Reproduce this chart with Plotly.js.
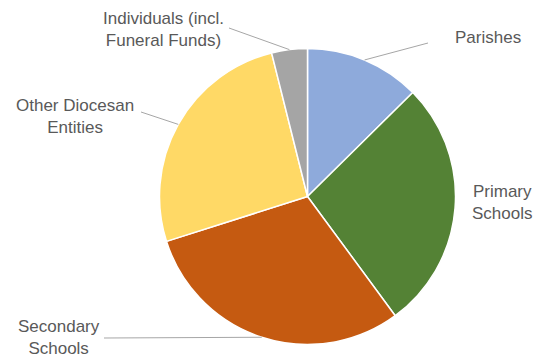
<!DOCTYPE html>
<html>
<head>
<meta charset="utf-8">
<script src="https://cdn.plot.ly/plotly-3.0.1.min.js"></script>
<style>html,body{margin:0;padding:0;background:#fff;}#chart{width:547px;height:359px;}</style>
</head>
<body>
<div id="chart"></div>
<script>
// Data
const categories = ["Parishes", "Primary Schools", "Secondary Schools", "Other Diocesan Entities", "Individuals (incl. Funeral Funds)"];
const labelText = ["Parishes", "Primary<br>Schools", "Secondary<br>Schools", "Other Diocesan<br>Entities", "Individuals (incl.<br>Funeral Funds)"];
const values = [12.6, 27.3, 30.2, 26.0, 3.9];
const colors = ["#8eaadb", "#548235", "#c55a11", "#ffd966", "#a5a5a5"];

// Layout geometry (pixels)
const W = 547, H = 359;
const cx = 307.5, cy = 196.5, R = 148;
// label centers and leader-line start points
const labelPos = [[488, 38], [502, 202], [59, 337], [75, 116], [163, 30]];
const leaderStart = [[428, 43], null, [104, 338], [141, 112], [229, 28]];

const px = x => x / W;
const py = y => 1 - y / H;

const total = values.reduce((a, b) => a + b, 0);
let cum = 0;
const shapes = [];
const annotations = [];
values.forEach((v, i) => {
  const mid = (cum + v / 2) / total * 2 * Math.PI;
  cum += v;
  const ex = cx + R * Math.sin(mid);
  const ey = cy - R * Math.cos(mid);
  if (leaderStart[i]) {
    shapes.push({type: 'line', xref: 'paper', yref: 'paper',
      x0: px(leaderStart[i][0]), y0: py(leaderStart[i][1]),
      x1: px(ex), y1: py(ey),
      line: {color: '#a6a6a6', width: 1}});
  }
  annotations.push({xref: 'paper', yref: 'paper', x: px(labelPos[i][0]), y: py(labelPos[i][1]),
    xanchor: 'center', yanchor: 'middle', align: 'center', showarrow: false,
    text: labelText[i], font: {family: 'Liberation Sans, Arial, sans-serif', size: 17, color: '#595959'}});
});

const trace = {
  type: 'pie',
  labels: categories,
  values: values,
  sort: false,
  direction: 'clockwise',
  rotation: 0,
  textinfo: 'none',
  hoverinfo: 'label+percent',
  marker: {colors: colors, line: {color: '#ffffff', width: 1.5}},
  domain: {x: [px(cx - R), px(cx + R)], y: [py(cy + R), py(cy - R)]},
  showlegend: false
};

Plotly.newPlot('chart', [trace], {
  width: W, height: H,
  margin: {l: 0, r: 0, t: 0, b: 0},
  paper_bgcolor: '#ffffff',
  showlegend: false,
  shapes: shapes,
  annotations: annotations
}, {displayModeBar: false, staticPlot: true});
</script>
</body>
</html>
